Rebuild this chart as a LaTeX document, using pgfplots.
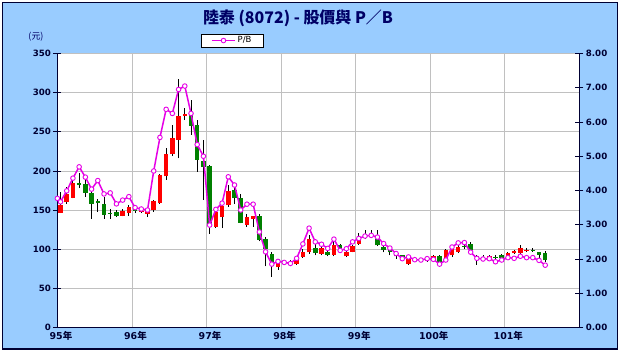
\documentclass[border=0pt]{standalone}
\usepackage{fontspec}
\usepackage{pgfplots}
\pgfplotsset{compat=1.18}
\usepackage{pgfplotstable}
\setmainfont{DejaVu Sans}
\newfontfamily\cjk{Noto Sans CJK TC}
\definecolor{bgblue}{RGB}{153,204,255}
\definecolor{navyt}{RGB}{0,0,102}
\definecolor{axdark}{RGB}{0,0,51}
\definecolor{pbmag}{RGB}{230,0,230}
\definecolor{cred}{RGB}{255,0,0}
\definecolor{cgreen}{RGB}{0,128,0}
\definecolor{gridgray}{RGB}{192,192,192}

\pgfplotstableread{
k o h l c
1 146 173 146 157
2 160 180 158 171
3 166 188 165 185
4 184 197 178 182
5 183 189 167 172
6 172 177 139 158
7 161 164 148 159
8 158 167 139 144
9 146 152 139 145
10 147 150 141 143
11 143 152 142 149
12 146 157 143 154
13 151 155 146 149
14 148 151 146 149
15 145 153 141 150
16 150 163 148 161
17 159 196 158 195
18 193 229 189 222
19 222 259 219 242
20 240 318 216 270
21 270 281 265 273
22 271 290 246 258
23 259 265 199 214
24 213 239 163 205
25 206 207 120 131
26 129 153 127 148
27 141 161 127 155
28 156 182 154 175
29 176 183 158 165
30 166 170 133 134
31 131 145 129 141
32 139 143 129 142
33 142 145 110 112
34 113 116 78 100
35 94 97 65 84
36 77 87 74 84
37 82 85 80 83
38 82 86 78 81
39 81 88 80 86
40 90 100 89 97
41 96 118 94 113
42 102 113 92 95
43 94 103 92 101
44 97 99 91 93
45 93 112 91 105
46 105 107 98 100
47 91 99 90 97
48 97 106 96 104
49 107 121 106 113
50 115 124 113 116
51 118 125 116 119
52 113 124 104 105
53 103 105 96 99
54 99 101 92 96
55 92 95 88 91
56 92 93 87 89
57 81 89 80 87
58 85 87 84 86
59 86 88 84 85
60 85 87 84 86
61 86 92 85 91
62 91 93 82 84
63 89 100 88 99
64 92 102 90 100
65 97 105 95 103
66 104 110 100 103
67 107 109 98 99
68 91 93 80 90
69 89 92 88 90
70 86 92 85 91
71 90 93 86 89
72 92 94 87 89
73 88 96 87 95
74 95 99 94 98
75 95 106 93 102
76 99 101 97 99.5
77 99 101 97 98.5
78 96 97 86 93
79 95 98 84 86
}\candles

\pgfplotstableread{
m pb
0 3.77
0.5 3.67
1.5 3.99
2.5 4.36
3.5 4.69
4.5 4.39
5.5 4.04
6.5 4.29
7.5 3.90
8.5 3.93
9.5 3.61
10.5 3.72
11.5 3.82
12.5 3.50
13.5 3.46
14.5 3.43
15.5 4.57
16.5 5.55
17.5 6.37
18.5 6.25
19.5 6.95
20.5 7.05
21.5 6.25
22.5 5.34
23.5 5.00
24.5 2.99
25.5 3.45
26.5 3.63
27.5 4.40
28.5 4.16
29.5 3.43
30.5 3.60
31.5 3.60
32.5 2.79
33.5 2.21
34.5 1.85
35.5 1.93
36.5 1.90
37.5 1.87
38.5 2.02
39.5 2.44
40.5 2.90
41.5 2.50
42.5 2.43
43.5 2.31
44.5 2.58
45.5 2.25
46.5 2.30
47.5 2.50
48.5 2.60
49.5 2.67
50.5 2.69
51.5 2.64
52.5 2.45
53.5 2.32
54.5 2.16
55.5 2.01
56.5 2.06
57.5 1.98
58.5 1.97
59.5 2.01
60.5 1.99
61.5 1.85
62.5 1.97
63.5 2.35
64.5 2.47
65.5 2.48
66.5 2.20
67.5 2.02
68.5 2.00
69.5 2.01
70.5 1.92
71.5 1.97
72.5 2.04
73.5 2.02
74.5 2.08
75.5 2.04
76.5 2.04
77.5 1.96
78.5 1.82
}\pbdata

\begin{document}
\begin{tikzpicture}
\fill[white] (0,0) rectangle (623bp,358bp);
\filldraw[fill=bgblue, draw=axdark, line width=1.2bp] (2.5bp,9bp) rectangle (617.5bp,355.5bp);
\node[text=navyt, font=\cjk\bfseries\fontsize{16}{18}\selectfont] at (298bp,340bp) {陸泰 (8072) - 股價與 P／B};
\node[text=navyt, font=\cjk\fontsize{9}{10}\selectfont] at (36bp,321bp) {(元)};

\begin{axis}[
  at={(57.4bp,30.5bp)}, anchor=south west, scale only axis,
  width=522bp, height=274bp,
  xmin=0, xmax=84, ymin=0, ymax=350,
  axis background/.style={fill=white},
  axis x line*=bottom, axis y line*=left,
  axis line style={axdark, line width=1bp},
  xtick={0,12,24,36,48,60,72,84},
  xticklabels={95{\cjk 年},96{\cjk 年},97{\cjk 年},98{\cjk 年},99{\cjk 年},100{\cjk 年},101{\cjk 年},},
  ytick={0,50,100,150,200,250,300,350},
  yticklabels={0,50,100,150,200,250,300,350},
  grid=major, major grid style={gridgray, line width=0.8bp},
  xtick style={draw=none},
  ytick style={axdark, line width=0.8bp},
  ytick align=center, major tick length=8bp,
  tick label style={text=axdark, font=\bfseries\fontsize{8.7}{10}\selectfont},
  xticklabel style={xshift=3.5bp, yshift=-0.5bp, font=\bfseries\fontsize{9.5}{10}\selectfont},
  yticklabel style={xshift=1bp},
]
\addplot[draw=none, mark=none, forget plot,
  error bars/.cd, y dir=plus, y explicit, error mark=none,
  error bar style={draw=black, line width=1bp}]
  table[x expr=\thisrow{k}-0.5, y=l, y error plus expr=\thisrow{h}-\thisrow{l}] {\candles};
\addplot[draw=none, mark=none, forget plot,
  restrict expr to domain={\thisrow{c}-\thisrow{o}}{0:1000},
  error bars/.cd, y dir=plus, y explicit, error mark=none,
  error bar style={draw=cred, line width=4.5bp}]
  table[x expr=\thisrow{k}-0.5, y=o, y error plus expr=\thisrow{c}-\thisrow{o}] {\candles};
\addplot[draw=none, mark=none, forget plot,
  restrict expr to domain={\thisrow{o}-\thisrow{c}}{0.0001:1000},
  error bars/.cd, y dir=plus, y explicit, error mark=none,
  error bar style={draw=cgreen, line width=4.5bp}]
  table[x expr=\thisrow{k}-0.5, y=c, y error plus expr=\thisrow{o}-\thisrow{c}] {\candles};
\end{axis}

\begin{axis}[
  at={(57.4bp,30.5bp)}, anchor=south west, scale only axis,
  width=522bp, height=274bp,
  xmin=0, xmax=84, ymin=0, ymax=8,
  axis x line=none, axis y line*=right,
  axis line style={axdark, line width=1bp},
  ytick={0,1,2,3,4,5,6,7,8},
  yticklabels={0.00,1.00,2.00,3.00,4.00,5.00,6.00,7.00,8.00},
  ytick style={axdark, line width=0.8bp},
  ytick align=center, major tick length=8bp,
  tick label style={text=axdark, font=\bfseries\fontsize{8.7}{10}\selectfont},
  yticklabel style={xshift=-1bp},
  legend style={at={(axis description cs:0.275,1.022)}, anchor=south west,
    draw=black, fill=white, font=\fontsize{8.5}{9}\selectfont,
    inner xsep=10bp, inner ysep=0.8bp, line width=0.6bp},
  legend image code/.code={\draw[mark repeat=2,mark phase=2,#1] plot coordinates {(0bp,0bp) (11.5bp,0bp) (23bp,0bp)};},
]
\addplot[pbmag, line width=1.5bp, mark=*, mark size=2.3bp,
  mark options={fill=white, draw=pbmag, line width=0.9bp}]
  table[x=m, y=pb] {\pbdata};
\addlegendentry{P/B}
\end{axis}
\end{tikzpicture}
\end{document}
